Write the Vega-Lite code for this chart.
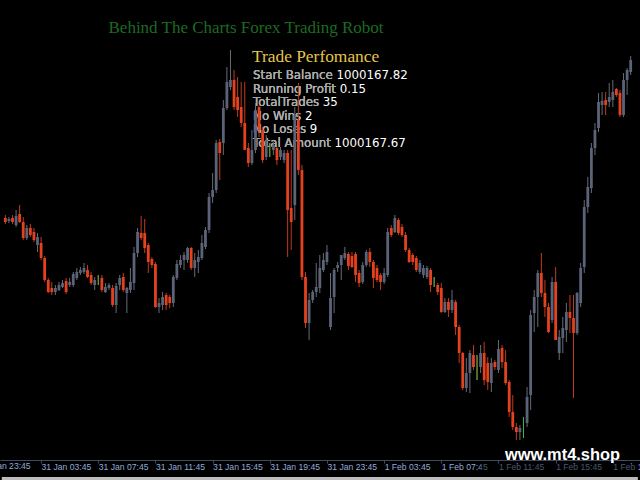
{
  "$schema": "https://vega.github.io/schema/vega-lite/v6.json",
  "width": 640,
  "height": 460,
  "autosize": "none",
  "padding": {"left": 0, "right": 0, "top": 0, "bottom": 20},
  "background": "#000000",
  "config": {"view": {"stroke": null}},
  "data": {"values": [
    {"t":"2014-01-31T01:15Z","o":262,"h":265,"l":256,"c":258},
    {"t":"2014-01-31T01:30Z","o":259,"h":263,"l":257,"c":261},
    {"t":"2014-01-31T01:45Z","o":262,"h":265,"l":256,"c":258},
    {"t":"2014-01-31T02:00Z","o":255,"h":270,"l":253,"c":264},
    {"t":"2014-01-31T02:15Z","o":266,"h":275,"l":257,"c":258},
    {"t":"2014-01-31T02:30Z","o":258,"h":263,"l":240,"c":242},
    {"t":"2014-01-31T02:45Z","o":242,"h":255,"l":240,"c":252},
    {"t":"2014-01-31T03:00Z","o":252,"h":256,"l":243,"c":245},
    {"t":"2014-01-31T03:15Z","o":248,"h":252,"l":238,"c":240},
    {"t":"2014-01-31T03:30Z","o":235,"h":247,"l":228,"c":243},
    {"t":"2014-01-31T03:45Z","o":237,"h":243,"l":220,"c":222},
    {"t":"2014-01-31T04:00Z","o":222,"h":224,"l":198,"c":200},
    {"t":"2014-01-31T04:15Z","o":200,"h":202,"l":187,"c":188},
    {"t":"2014-01-31T04:30Z","o":192,"h":198,"l":185,"c":188},
    {"t":"2014-01-31T04:45Z","o":188,"h":195,"l":185,"c":192},
    {"t":"2014-01-31T05:00Z","o":190,"h":198,"l":189,"c":195},
    {"t":"2014-01-31T05:15Z","o":193,"h":200,"l":192,"c":197},
    {"t":"2014-01-31T05:30Z","o":199,"h":202,"l":186,"c":188},
    {"t":"2014-01-31T05:45Z","o":195,"h":202,"l":193,"c":198},
    {"t":"2014-01-31T06:00Z","o":195,"h":208,"l":193,"c":206},
    {"t":"2014-01-31T06:15Z","o":202,"h":212,"l":200,"c":208},
    {"t":"2014-01-31T06:30Z","o":207,"h":213,"l":205,"c":210},
    {"t":"2014-01-31T06:45Z","o":208,"h":217,"l":206,"c":212},
    {"t":"2014-01-31T07:00Z","o":210,"h":215,"l":202,"c":203},
    {"t":"2014-01-31T07:15Z","o":205,"h":208,"l":195,"c":197},
    {"t":"2014-01-31T07:30Z","o":195,"h":203,"l":190,"c":200},
    {"t":"2014-01-31T07:45Z","o":200,"h":205,"l":195,"c":200},
    {"t":"2014-01-31T08:00Z","o":202,"h":205,"l":188,"c":190},
    {"t":"2014-01-31T08:15Z","o":188,"h":197,"l":187,"c":193},
    {"t":"2014-01-31T08:30Z","o":192,"h":197,"l":190,"c":195},
    {"t":"2014-01-31T08:45Z","o":192,"h":195,"l":173,"c":175},
    {"t":"2014-01-31T09:00Z","o":175,"h":197,"l":167,"c":194},
    {"t":"2014-01-31T09:15Z","o":195,"h":205,"l":190,"c":202},
    {"t":"2014-01-31T09:30Z","o":203,"h":207,"l":188,"c":190},
    {"t":"2014-01-31T09:45Z","o":187,"h":193,"l":167,"c":192},
    {"t":"2014-01-31T10:00Z","o":190,"h":212,"l":187,"c":198},
    {"t":"2014-01-31T10:15Z","o":197,"h":233,"l":190,"c":227},
    {"t":"2014-01-31T10:30Z","o":227,"h":252,"l":223,"c":248},
    {"t":"2014-01-31T10:45Z","o":247,"h":264,"l":240,"c":242},
    {"t":"2014-01-31T11:00Z","o":247,"h":261,"l":227,"c":232},
    {"t":"2014-01-31T11:15Z","o":235,"h":237,"l":207,"c":218},
    {"t":"2014-01-31T11:30Z","o":221,"h":223,"l":212,"c":215},
    {"t":"2014-01-31T11:45Z","o":216,"h":218,"l":172,"c":173},
    {"t":"2014-01-31T12:00Z","o":173,"h":182,"l":167,"c":177},
    {"t":"2014-01-31T12:15Z","o":175,"h":188,"l":170,"c":183},
    {"t":"2014-01-31T12:30Z","o":185,"h":187,"l":170,"c":175},
    {"t":"2014-01-31T12:45Z","o":183,"h":185,"l":172,"c":177},
    {"t":"2014-01-31T13:00Z","o":177,"h":205,"l":173,"c":203},
    {"t":"2014-01-31T13:15Z","o":202,"h":220,"l":200,"c":216},
    {"t":"2014-01-31T13:30Z","o":215,"h":225,"l":212,"c":220},
    {"t":"2014-01-31T13:45Z","o":220,"h":228,"l":210,"c":225},
    {"t":"2014-01-31T14:00Z","o":220,"h":233,"l":217,"c":232},
    {"t":"2014-01-31T14:15Z","o":232,"h":233,"l":210,"c":212},
    {"t":"2014-01-31T14:30Z","o":212,"h":227,"l":203,"c":220},
    {"t":"2014-01-31T14:45Z","o":218,"h":230,"l":207,"c":223},
    {"t":"2014-01-31T15:00Z","o":222,"h":245,"l":220,"c":237},
    {"t":"2014-01-31T15:15Z","o":233,"h":253,"l":231,"c":250},
    {"t":"2014-01-31T15:30Z","o":250,"h":287,"l":247,"c":283},
    {"t":"2014-01-31T15:45Z","o":283,"h":307,"l":277,"c":290},
    {"t":"2014-01-31T16:00Z","o":290,"h":340,"l":287,"c":337},
    {"t":"2014-01-31T16:15Z","o":338,"h":341,"l":300,"c":327},
    {"t":"2014-01-31T16:30Z","o":337,"h":380,"l":325,"c":372},
    {"t":"2014-01-31T16:45Z","o":372,"h":413,"l":370,"c":398},
    {"t":"2014-01-31T17:00Z","o":393,"h":430,"l":390,"c":400},
    {"t":"2014-01-31T17:15Z","o":400,"h":410,"l":370,"c":373},
    {"t":"2014-01-31T17:30Z","o":383,"h":403,"l":363,"c":370},
    {"t":"2014-01-31T17:45Z","o":373,"h":398,"l":353,"c":357},
    {"t":"2014-01-31T18:00Z","o":357,"h":398,"l":330,"c":330},
    {"t":"2014-01-31T18:15Z","o":332,"h":337,"l":313,"c":317},
    {"t":"2014-01-31T18:30Z","o":317,"h":350,"l":315,"c":330},
    {"t":"2014-01-31T18:45Z","o":330,"h":377,"l":327,"c":370},
    {"t":"2014-01-31T19:00Z","o":373,"h":375,"l":343,"c":350},
    {"t":"2014-01-31T19:15Z","o":350,"h":353,"l":317,"c":320},
    {"t":"2014-01-31T19:30Z","o":323,"h":345,"l":320,"c":340},
    {"t":"2014-01-31T19:45Z","o":332,"h":337,"l":323,"c":332},
    {"t":"2014-01-31T20:00Z","o":330,"h":338,"l":325,"c":335},
    {"t":"2014-01-31T20:15Z","o":332,"h":333,"l":315,"c":320},
    {"t":"2014-01-31T20:30Z","o":323,"h":333,"l":320,"c":330},
    {"t":"2014-01-31T20:45Z","o":320,"h":330,"l":317,"c":327},
    {"t":"2014-01-31T21:00Z","o":327,"h":330,"l":223,"c":270},
    {"t":"2014-01-31T21:15Z","o":272,"h":330,"l":230,"c":258},
    {"t":"2014-01-31T21:30Z","o":275,"h":373,"l":260,"c":365},
    {"t":"2014-01-31T21:45Z","o":360,"h":397,"l":305,"c":310},
    {"t":"2014-01-31T22:00Z","o":310,"h":315,"l":200,"c":203},
    {"t":"2014-01-31T22:15Z","o":203,"h":208,"l":152,"c":157},
    {"t":"2014-01-31T22:30Z","o":157,"h":187,"l":140,"c":180},
    {"t":"2014-01-31T22:45Z","o":180,"h":190,"l":177,"c":188},
    {"t":"2014-01-31T23:00Z","o":188,"h":217,"l":183,"c":193},
    {"t":"2014-01-31T23:15Z","o":192,"h":225,"l":187,"c":212},
    {"t":"2014-01-31T23:30Z","o":210,"h":227,"l":208,"c":220},
    {"t":"2014-01-31T23:45Z","o":218,"h":235,"l":215,"c":228},
    {"t":"2014-02-01T00:00Z","o":153,"h":207,"l":150,"c":182},
    {"t":"2014-02-01T00:15Z","o":183,"h":212,"l":167,"c":210},
    {"t":"2014-02-01T00:30Z","o":212,"h":218,"l":208,"c":215},
    {"t":"2014-02-01T00:45Z","o":215,"h":225,"l":200,"c":225},
    {"t":"2014-02-01T01:00Z","o":222,"h":233,"l":220,"c":227},
    {"t":"2014-02-01T01:15Z","o":226,"h":228,"l":210,"c":214},
    {"t":"2014-02-01T01:30Z","o":224,"h":228,"l":212,"c":213},
    {"t":"2014-02-01T01:45Z","o":226,"h":228,"l":198,"c":205},
    {"t":"2014-02-01T02:00Z","o":207,"h":210,"l":193,"c":197},
    {"t":"2014-02-01T02:15Z","o":198,"h":218,"l":196,"c":215},
    {"t":"2014-02-01T02:30Z","o":215,"h":230,"l":213,"c":228},
    {"t":"2014-02-01T02:45Z","o":228,"h":232,"l":213,"c":218},
    {"t":"2014-02-01T03:00Z","o":218,"h":220,"l":192,"c":202},
    {"t":"2014-02-01T03:15Z","o":212,"h":215,"l":198,"c":200},
    {"t":"2014-02-01T03:30Z","o":205,"h":207,"l":190,"c":198},
    {"t":"2014-02-01T03:45Z","o":198,"h":212,"l":196,"c":207},
    {"t":"2014-02-01T04:00Z","o":205,"h":252,"l":203,"c":248},
    {"t":"2014-02-01T04:15Z","o":252,"h":255,"l":243,"c":245},
    {"t":"2014-02-01T04:30Z","o":248,"h":265,"l":247,"c":262},
    {"t":"2014-02-01T04:45Z","o":260,"h":262,"l":245,"c":247},
    {"t":"2014-02-01T05:00Z","o":253,"h":256,"l":243,"c":245},
    {"t":"2014-02-01T05:15Z","o":245,"h":248,"l":228,"c":230},
    {"t":"2014-02-01T05:30Z","o":230,"h":232,"l":217,"c":218},
    {"t":"2014-02-01T05:45Z","o":225,"h":227,"l":215,"c":218},
    {"t":"2014-02-01T06:00Z","o":222,"h":224,"l":208,"c":210},
    {"t":"2014-02-01T06:15Z","o":208,"h":220,"l":206,"c":217},
    {"t":"2014-02-01T06:30Z","o":205,"h":215,"l":202,"c":212},
    {"t":"2014-02-01T06:45Z","o":203,"h":214,"l":201,"c":212},
    {"t":"2014-02-01T07:00Z","o":210,"h":212,"l":188,"c":195},
    {"t":"2014-02-01T07:15Z","o":198,"h":203,"l":193,"c":198},
    {"t":"2014-02-01T07:30Z","o":195,"h":197,"l":185,"c":188},
    {"t":"2014-02-01T07:45Z","o":192,"h":197,"l":167,"c":168},
    {"t":"2014-02-01T08:00Z","o":168,"h":182,"l":167,"c":178},
    {"t":"2014-02-01T08:15Z","o":178,"h":182,"l":163,"c":170},
    {"t":"2014-02-01T08:30Z","o":170,"h":190,"l":167,"c":180},
    {"t":"2014-02-01T08:45Z","o":178,"h":180,"l":145,"c":153},
    {"t":"2014-02-01T09:00Z","o":153,"h":155,"l":117,"c":127},
    {"t":"2014-02-01T09:15Z","o":127,"h":128,"l":90,"c":92},
    {"t":"2014-02-01T09:30Z","o":92,"h":122,"l":88,"c":107},
    {"t":"2014-02-01T09:45Z","o":107,"h":130,"l":87,"c":127},
    {"t":"2014-02-01T10:00Z","o":125,"h":135,"l":110,"c":113},
    {"t":"2014-02-01T10:15Z","o":112,"h":125,"l":100,"c":112},
    {"t":"2014-02-01T10:30Z","o":113,"h":135,"l":107,"c":127},
    {"t":"2014-02-01T10:45Z","o":127,"h":138,"l":95,"c":100},
    {"t":"2014-02-01T11:00Z","o":117,"h":123,"l":90,"c":98},
    {"t":"2014-02-01T11:15Z","o":97,"h":122,"l":88,"c":117},
    {"t":"2014-02-01T11:30Z","o":118,"h":120,"l":110,"c":113},
    {"t":"2014-02-01T11:45Z","o":110,"h":140,"l":107,"c":131},
    {"t":"2014-02-01T12:00Z","o":132,"h":135,"l":112,"c":118},
    {"t":"2014-02-01T12:15Z","o":118,"h":130,"l":95,"c":97},
    {"t":"2014-02-01T12:30Z","o":98,"h":100,"l":63,"c":68},
    {"t":"2014-02-01T12:45Z","o":68,"h":85,"l":50,"c":53},
    {"t":"2014-02-01T13:00Z","o":53,"h":57,"l":40,"c":48},
    {"t":"2014-02-01T13:15Z","o":48,"h":55,"l":40,"c":52},
    {"t":"2014-02-01T13:30Z","o":54,"h":63,"l":42,"c":54},
    {"t":"2014-02-01T13:45Z","o":57,"h":93,"l":53,"c":83},
    {"t":"2014-02-01T14:00Z","o":85,"h":170,"l":70,"c":165},
    {"t":"2014-02-01T14:15Z","o":167,"h":190,"l":148,"c":183},
    {"t":"2014-02-01T14:30Z","o":183,"h":210,"l":153,"c":207},
    {"t":"2014-02-01T14:45Z","o":207,"h":227,"l":183,"c":187},
    {"t":"2014-02-01T15:00Z","o":187,"h":200,"l":163,"c":173},
    {"t":"2014-02-01T15:15Z","o":173,"h":177,"l":147,"c":148},
    {"t":"2014-02-01T15:30Z","o":160,"h":203,"l":157,"c":198},
    {"t":"2014-02-01T15:45Z","o":198,"h":213,"l":140,"c":140},
    {"t":"2014-02-01T16:00Z","o":127,"h":150,"l":120,"c":143},
    {"t":"2014-02-01T16:15Z","o":142,"h":163,"l":127,"c":152},
    {"t":"2014-02-01T16:30Z","o":150,"h":177,"l":138,"c":168},
    {"t":"2014-02-01T16:45Z","o":168,"h":185,"l":147,"c":162},
    {"t":"2014-02-01T17:00Z","o":162,"h":185,"l":82,"c":147},
    {"t":"2014-02-01T17:15Z","o":147,"h":188,"l":145,"c":187},
    {"t":"2014-02-01T17:30Z","o":177,"h":217,"l":173,"c":212},
    {"t":"2014-02-01T17:45Z","o":213,"h":280,"l":207,"c":273},
    {"t":"2014-02-01T18:00Z","o":273,"h":303,"l":267,"c":293},
    {"t":"2014-02-01T18:15Z","o":292,"h":337,"l":287,"c":332},
    {"t":"2014-02-01T18:30Z","o":332,"h":357,"l":325,"c":350},
    {"t":"2014-02-01T18:45Z","o":352,"h":387,"l":348,"c":378},
    {"t":"2014-02-01T19:00Z","o":375,"h":388,"l":365,"c":379},
    {"t":"2014-02-01T19:15Z","o":380,"h":388,"l":365,"c":375},
    {"t":"2014-02-01T19:30Z","o":378,"h":397,"l":373,"c":383},
    {"t":"2014-02-01T19:45Z","o":380,"h":400,"l":373,"c":388},
    {"t":"2014-02-01T20:00Z","o":391,"h":392,"l":383,"c":385},
    {"t":"2014-02-01T20:15Z","o":387,"h":390,"l":363,"c":365},
    {"t":"2014-02-01T20:30Z","o":365,"h":407,"l":363,"c":400},
    {"t":"2014-02-01T20:45Z","o":400,"h":412,"l":385,"c":410},
    {"t":"2014-02-01T21:00Z","o":408,"h":424,"l":405,"c":420}
  ]},
  "encoding": {
    "x": {
      "field": "t", "type": "temporal",
      "scale": {"type": "utc", "domain": [1391130810000, 1391289486000]},
      "axis": {
        "title": null,
        "values": [1391139900000, 1391154300000, 1391168700000, 1391183100000, 1391197500000, 1391211900000, 1391226300000, 1391240700000, 1391255100000, 1391269500000, 1391283900000],
        "labelExpr": "utcFormat(datum.value, '%-d %b %H:%M')",
        "labelAlign": "left",
        "labelBaseline": "middle",
        "labelPadding": 3,
        "labelDx": -3,
        "labelFont": "Liberation Sans",
        "labelFontSize": 8.6,
        "labelColor": "#92aad8",
        "labelOverlap": false,
        "labelFlush": false,
        "labelBound": false,
        "domainColor": "#3e4b68",
        "tickColor": "#3e4b68",
        "tickSize": 3,
        "grid": false
      }
    }
  },
  "layer": [
    {
      "data": {"values": [{"t": "2014-01-31T08:28Z", "v": 452, "txt": "Behind The Charts Forex Trading Robot"}]},
      "mark": {"type": "text", "align": "left", "baseline": "middle", "font": "Liberation Serif", "fontSize": 17, "color": "#1d6a22"},
      "encoding": {"y": {"field": "v", "type": "quantitative", "scale": {"domain": [20, 480], "nice": false, "zero": false}, "axis": null}, "text": {"field": "txt"}}
    },
    {
      "data": {"values": [{"t": "2014-01-30T23:45Z", "v": 14, "txt": "30 Jan 23:45"}]},
      "mark": {"type": "text", "align": "left", "baseline": "middle", "dx": -3, "font": "Liberation Sans", "fontSize": 8.6, "color": "#92aad8"},
      "encoding": {"y": {"field": "v", "type": "quantitative"}, "text": {"field": "txt"}}
    },
    {
      "data": {"values": [{"t": "2014-01-31T18:30Z", "v": 423, "txt": "Trade Perfomance"}]},
      "mark": {"type": "text", "align": "left", "baseline": "middle", "font": "Liberation Serif", "fontSize": 17.4, "color": "#e6c44c"},
      "encoding": {"y": {"field": "v", "type": "quantitative"}, "text": {"field": "txt"}}
    },
    {
      "data": {"values": [
        {"t": "2014-01-31T18:35Z", "v": 405, "full": "Start Balance 1000167.82"},
        {"t": "2014-01-31T18:35Z", "v": 391.4, "full": "Running Profit 0.15"},
        {"t": "2014-01-31T18:35Z", "v": 377.8, "full": "TotalTrades 35"},
        {"t": "2014-01-31T18:35Z", "v": 364.2, "full": "No Wins 2"},
        {"t": "2014-01-31T18:35Z", "v": 350.6, "full": "No Loses 9"},
        {"t": "2014-01-31T18:35Z", "v": 337, "full": "Total Amount 1000167.67"}
      ]},
      "mark": {"type": "text", "align": "left", "baseline": "middle", "font": "DejaVu Sans", "fontSize": 11.8, "color": "#ffffff"},
      "encoding": {"y": {"field": "v", "type": "quantitative"}, "text": {"field": "full"}}
    },
    {
      "data": {"values": [
        {"t": "2014-01-31T18:35Z", "v": 405, "label": "Start Balance"},
        {"t": "2014-01-31T18:35Z", "v": 391.4, "label": "Running Profit"},
        {"t": "2014-01-31T18:35Z", "v": 377.8, "label": "TotalTrades"},
        {"t": "2014-01-31T18:35Z", "v": 364.2, "label": "No Wins"},
        {"t": "2014-01-31T18:35Z", "v": 350.6, "label": "No Loses"},
        {"t": "2014-01-31T18:35Z", "v": 337, "label": "Total Amount"}
      ]},
      "mark": {"type": "text", "align": "left", "baseline": "middle", "font": "DejaVu Sans", "fontSize": 11.8, "color": "#a4a4a4"},
      "encoding": {"y": {"field": "v", "type": "quantitative"}, "text": {"field": "label"}}
    },
    {
      "mark": {"type": "rule", "strokeWidth": 1},
      "encoding": {
        "y": {"field": "l", "type": "quantitative"},
        "y2": {"field": "h"},
        "color": {"condition": {"test": "datum.c > datum.o", "value": "#666b76"}, "value": "#c23a1e"}
      }
    },
    {
      "mark": {"type": "bar", "width": 2.8},
      "encoding": {
        "y": {"field": "o", "type": "quantitative"},
        "y2": {"field": "c"},
        "color": {"condition": {"test": "datum.c > datum.o", "value": "#5a6378"}, "value": "#e4421e"}
      }
    },
    {
      "transform": [{"filter": "datum.o == datum.c"}],
      "mark": {"type": "rule", "strokeWidth": 1, "color": "#3cbc44"},
      "encoding": {
        "y": {"field": "l", "type": "quantitative"},
        "y2": {"field": "h"}
      }
    },
    {
      "data": {"values": [{"t": "2014-02-01T10:30Z", "t2": "2014-02-01T21:20Z", "v": 16, "v2": 4}]},
      "mark": {"type": "rect", "color": "#000000", "opacity": 0.5},
      "encoding": {
        "x2": {"field": "t2"},
        "y": {"field": "v", "type": "quantitative"},
        "y2": {"field": "v2"}
      }
    },
    {
      "data": {"values": [{"t": "2014-02-01T12:12Z", "v": 25, "txt": "www.mt4.shop"}]},
      "mark": {"type": "text", "align": "left", "baseline": "middle", "font": "Liberation Sans", "fontWeight": "bold", "fontSize": 16.4, "color": "#ffffff"},
      "encoding": {"y": {"field": "v", "type": "quantitative"}, "text": {"field": "txt"}}
    },
    {
      "data": {"values": [{"t": "2014-01-31T01:00Z", "t2": "2014-02-01T21:30Z", "v": 3, "v2": 0}]},
      "mark": {"type": "rect", "color": "#bcbcbc"},
      "encoding": {
        "x2": {"field": "t2"},
        "y": {"field": "v", "type": "quantitative"},
        "y2": {"field": "v2"}
      }
    }
  ]
}
